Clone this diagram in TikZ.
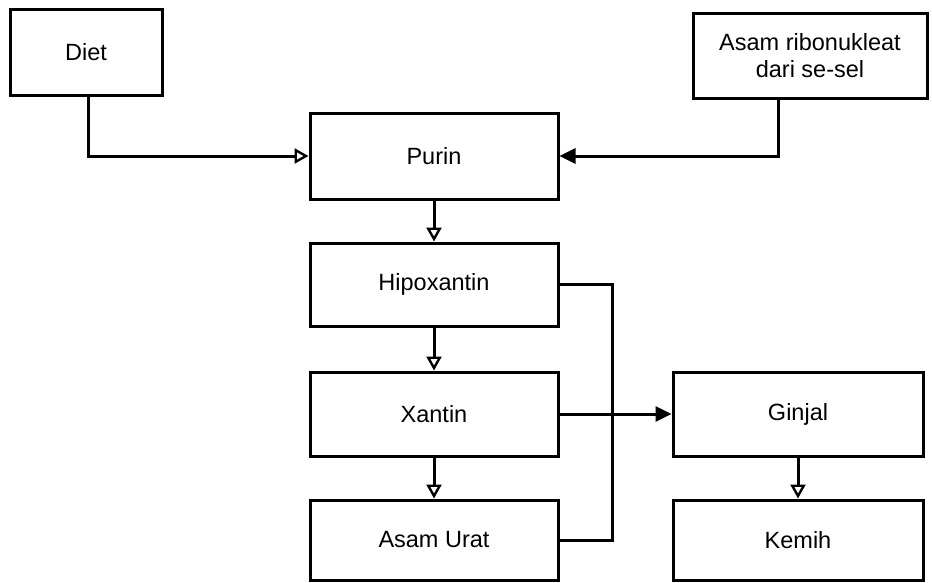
\documentclass[tikz,border=0pt]{standalone}
\usepackage{fontspec}
\setmainfont{Liberation Sans}
\usetikzlibrary{arrows.meta}
\begin{document}
\begin{tikzpicture}[x=1pt,y=-1pt,
  box/.style={draw,line width=3pt,rectangle,inner sep=0pt,align=center,
    font=\fontsize{23.5}{27}\selectfont},
  conn/.style={line width=3pt},
  openarr/.style={conn,-{Triangle[open,length=14pt,width=15pt,line width=2.4pt]}},
  fillarr/.style={conn,-{Triangle[length=16pt,width=15pt]}}]
\useasboundingbox[fill=white] (0,0) rectangle (932,582);
\node[box,minimum width=152pt,minimum height=86pt] (diet) at (86,52) {Diet};
\node[box,minimum width=234pt,minimum height=85pt] (asam) at (810,55.5) {Asam ribonukleat\\dari se-sel};
\node[box,minimum width=248pt,minimum height=86pt] (purin) at (434,156) {Purin};
\node[box,minimum width=248pt,minimum height=83pt] (hipo) at (434,284.5) {Hipoxantin};
\node[box,minimum width=248pt,minimum height=84pt] (xantin) at (434,414) {Xantin};
\node[box,minimum width=248pt,minimum height=80pt] (urat) at (434,540) {Asam Urat};
\node[box,minimum width=250pt,minimum height=84pt] (ginjal) at (798,414) {Ginjal};
\node[box,minimum width=250pt,minimum height=80pt] (kemih) at (798,540) {Kemih};
\draw[openarr] ([xshift=2pt]diet.south) |- (purin.west);
\draw[fillarr] ([xshift=-32pt]asam.south) |- (purin.east);
\draw[openarr] (purin.south) -- (hipo.north);
\draw[openarr] (hipo.south) -- (xantin.north);
\draw[openarr] (xantin.south) -- (urat.north);
\draw[openarr] (ginjal.south) -- (kemih.north);
\coordinate (bend) at (612,0);
\draw[conn] (hipo.east) -| (bend |- urat.east) -- (urat.east);
\draw[fillarr] (xantin.east) -- (ginjal.west);
\end{tikzpicture}
\end{document}
